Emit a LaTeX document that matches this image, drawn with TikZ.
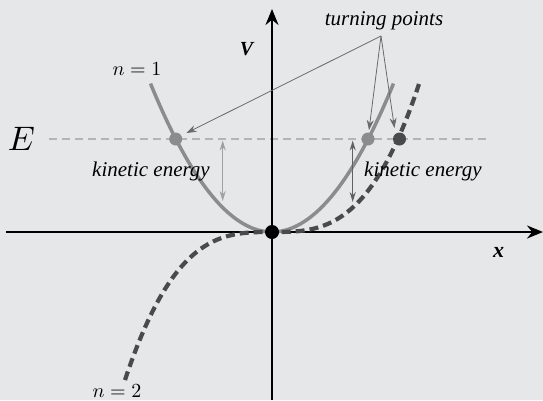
\documentclass[tikz,border=0pt]{standalone}
\usepackage{fontspec}
\setmainfont{Liberation Serif}
\usetikzlibrary{arrows.meta}
\definecolor{bgc}{HTML}{E6E7E9}
\definecolor{parabc}{HTML}{8C8C8C}
\definecolor{cubicc}{HTML}{4A4A4A}
\definecolor{elinec}{HTML}{B4B4B4}
\definecolor{tparrow}{HTML}{6A6A6A}
\definecolor{keleft}{HTML}{A0A0A0}
\definecolor{keright}{HTML}{606060}
\tikzset{
  axisline/.style={line width=2.2pt, black, -{Stealth[length=16pt,width=13pt]}},
  parab/.style={line width=3.5pt, parabc},
  cubicline/.style={line width=4.2pt, cubicc, dash pattern=on 9pt off 5pt},
  eline/.style={line width=2pt, elinec, dash pattern=on 8pt off 5pt},
  tpar/.style={line width=0.8pt, tparrow, -{Stealth[length=10pt,width=7pt]}},
  kearrow/.style={line width=1.2pt, {Stealth[length=10pt,width=6pt]}-{Stealth[length=10pt,width=6pt]}},
  dotnode/.style={circle, inner sep=0pt, minimum size=13pt},
  lbl/.style={font=\fontsize{21}{21}\selectfont\itshape, inner sep=0pt},
  mathlbl/.style={inner sep=0pt, scale=2.0},
}
\begin{document}
\begin{tikzpicture}[x=1pt,y=-1pt]
\fill[bgc] (0,0) rectangle (543,400);
\useasboundingbox (0,0) rectangle (543,400);
% energy line
\coordinate (eL) at (49,139);
\coordinate (eR) at (490,139);
\draw[eline] (eL) -- (eR);
% axes
\coordinate (xs) at (6,232);
\coordinate (xe) at (543,232);
\coordinate (ys) at (272,400);
\coordinate (ye) at (272,9);
\draw[axisline] (xs) -- (xe);
\draw[axisline] (ys) -- (ye);
% curves
\draw[parab] plot[domain=-121.5:121.5, samples=80] ({272+\x},{232-0.01006*\x*\x});
\draw[cubicline] plot[domain=-147:147, samples=120] ({272+\x},{232-148*(\x/147)*(\x/147)*(\x/147)});
% dots
\node[dotnode, fill=parabc] (tp1) at (175.7,139) {};
\node[dotnode, fill=parabc] (tp2) at (368,139) {};
\node[dotnode, fill=cubicc] (tp3) at (399.5,139) {};
\node[dotnode, fill=black, minimum size=14pt] (orig) at (272,232) {};
% labels
\node[lbl, anchor=base] (tplabel) at (384,25) {turning points};
\coordinate (apex) at (381,36);
\draw[tpar] (apex) -- (186.5,133);
\draw[tpar] (apex) -- (369,130);
\draw[tpar] (apex) -- (394.5,128);
\node[lbl, anchor=base] (ke1) at (151,176) {kinetic energy};
\node[lbl, anchor=base] (ke2) at (423,176) {kinetic energy};
\coordinate (k1a) at (222.7,140.5);
\coordinate (k1b) at (222.7,201);
\coordinate (k2a) at (352.7,140.5);
\coordinate (k2b) at (352.7,202);
\draw[kearrow, keleft] (k1a) -- (k1b);
\draw[kearrow, keright] (k2a) -- (k2b);
\node[mathlbl] (n1) at (137,69) {$n=1$};
\node[mathlbl] (n2) at (117,391) {$n=2$};
\node[inner sep=0pt, scale=3.4] (Elab) at (21.5,138.5) {$E$};
\node[inner sep=0pt, font=\fontsize{20}{20}\selectfont\bfseries\itshape] (Vlab) at (246.5,49) {V};
\node[inner sep=0pt, font=\fontsize{22}{22}\selectfont\bfseries\itshape] (xlab) at (498.5,252.5) {x};
\end{tikzpicture}
\end{document}
